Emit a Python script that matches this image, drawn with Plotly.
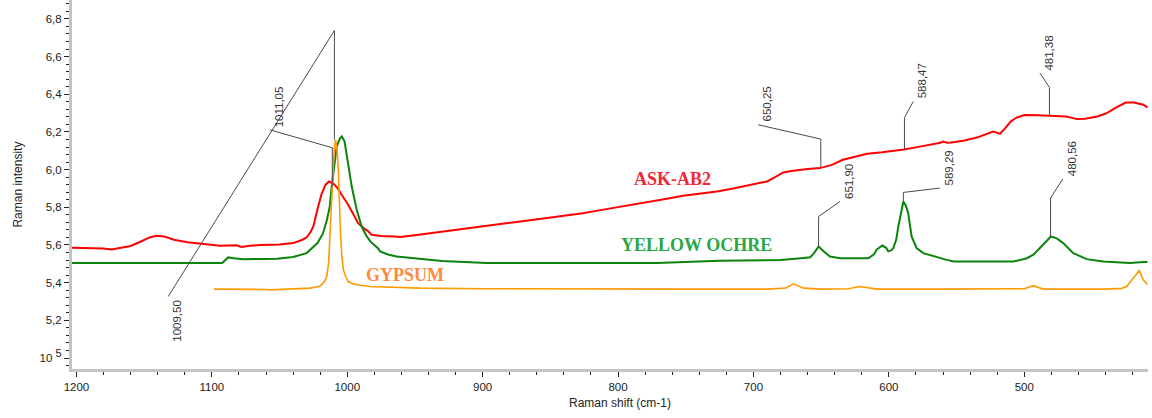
import plotly.graph_objects as go

# ---------------- data ----------------
red_x = [1203.3, 1190, 1180, 1174, 1168, 1160, 1152, 1146, 1141, 1135, 1128, 1118, 1106, 1094, 1082, 1078,
         1072, 1064, 1050, 1040, 1034, 1030, 1027, 1025, 1022, 1019, 1016, 1013.5, 1010, 1007, 1004, 1000,
         996, 992, 988, 985, 982, 975, 965, 961, 950, 936, 924, 912, 900, 887, 875, 862, 850, 838, 826,
         813, 801, 789, 776, 764, 752, 740, 727, 715, 703, 690, 684, 678, 672, 666, 660, 651, 642, 634,
         625, 616, 605, 595, 589, 580, 570, 562, 560, 557, 554, 545, 535, 528, 523, 520, 518, 514, 510,
         506, 500, 490, 481, 469, 461, 455, 446, 439, 432, 425, 419, 415, 412, 409]
red_y = [5.585, 5.585, 5.582, 5.576, 5.585, 5.595, 5.62, 5.64, 5.649, 5.645, 5.628, 5.615, 5.605, 5.596, 5.598, 5.589,
         5.596, 5.600, 5.603, 5.61, 5.625, 5.64, 5.67, 5.70, 5.79, 5.87, 5.92, 5.937, 5.925, 5.90, 5.865, 5.822,
         5.77, 5.716, 5.69, 5.675, 5.654, 5.648, 5.645, 5.642, 5.652, 5.666, 5.678, 5.69, 5.70, 5.712, 5.722, 5.734, 5.748, 5.757, 5.769,
         5.785, 5.799, 5.815, 5.831, 5.845, 5.861, 5.872, 5.884, 5.900, 5.919, 5.937, 5.96, 5.985, 5.993, 5.999, 6.003, 6.008, 6.025, 6.052,
         6.07, 6.084, 6.092, 6.10, 6.107, 6.118, 6.13, 6.142, 6.149, 6.143, 6.144, 6.153, 6.17, 6.19, 6.202, 6.195, 6.19, 6.22, 6.255,
         6.275, 6.29, 6.288, 6.285, 6.282, 6.268, 6.27, 6.282, 6.30, 6.33, 6.356, 6.356, 6.35, 6.344, 6.33]

green_x = [1203.3, 1092.3, 1090, 1088, 1084, 1077, 1060, 1052, 1040, 1030, 1022, 1018, 1015, 1013, 1011.5, 1009.5,
           1007.8, 1005.5, 1004, 1002, 1000.4, 998.5, 996.7, 993, 989.4, 986, 983, 980, 978.8, 977, 975.8, 970,
           963.5, 955, 946, 930, 897, 850, 771, 725, 700, 680, 665, 658, 655, 651.9, 648, 643.5, 636, 615, 611,
           609, 604.8, 602, 600.4, 598, 596.7, 594.5, 593, 591, 589.3, 587.5, 585.7, 583.2, 580.5, 579.5, 574.6,
           565, 557.3, 552, 508, 498, 493, 488.4, 484, 480.3, 476, 471.2, 463.8, 453.9, 441.6, 422, 412, 409]
green_y = [5.504, 5.504, 5.52, 5.534, 5.53, 5.525, 5.526, 5.527, 5.536, 5.557, 5.61, 5.66, 5.734, 5.80, 5.91, 6.02,
           6.122, 6.165, 6.176, 6.15, 6.07, 5.99, 5.91, 5.787, 5.698, 5.65, 5.619, 5.60, 5.592, 5.58, 5.566, 5.55,
           5.539, 5.532, 5.525, 5.515, 5.504, 5.504, 5.504, 5.516, 5.52, 5.521, 5.53, 5.535, 5.56, 5.592, 5.565, 5.539, 5.53, 5.53, 5.55,
           5.575, 5.597, 5.585, 5.566, 5.572, 5.584, 5.63, 5.698, 5.78, 5.831, 5.81, 5.769, 5.645, 5.60, 5.584, 5.557,
           5.535, 5.521, 5.512, 5.512, 5.53, 5.55, 5.584, 5.62, 5.645, 5.635, 5.61, 5.557, 5.525, 5.512, 5.504, 5.51, 5.51]

orange_x = [1098.4, 1080, 1060, 1057, 1045, 1030, 1027.5, 1021, 1018.9, 1016.5, 1015.2, 1013.8, 1012.8, 1011.8,
            1010.8, 1009.6, 1008.6, 1007.6, 1006.6, 1005.7, 1004.9, 1003.9, 1002.9, 1001, 999.3, 996, 993, 983,
            946, 900, 850, 750, 690, 676, 670.6, 666, 663, 650, 630, 621.3, 613, 609, 560, 500, 493.3, 488, 486,
            440, 428, 424.4, 419.5, 415, 412.1, 409]
orange_y = [5.366, 5.366, 5.364, 5.362, 5.366, 5.371, 5.371, 5.38, 5.389, 5.41, 5.433, 5.50, 5.645, 5.82,
            5.999, 6.12, 6.158, 6.11, 6.0, 5.80, 5.645, 5.53, 5.468, 5.43, 5.406, 5.395, 5.389, 5.38,
            5.371, 5.368, 5.366, 5.366, 5.366, 5.372, 5.394, 5.378, 5.371, 5.366, 5.368, 5.38, 5.37, 5.366, 5.366, 5.368, 5.384, 5.372, 5.366,
            5.366, 5.37, 5.38, 5.424, 5.465, 5.415, 5.39]

# peak labels: text, peak position, tip intensity, elbow intensity, leader end (x, y), label below end?
peak_text = ["1009,50", "1011,05", "650,25", "588,47", "481,38", "651,90", "589,29", "480,56"]
peak_x = [1009.5, 1011.05, 650.25, 588.47, 481.38, 651.90, 589.29, 480.56]
peak_tip = [6.159, 5.909, 6.011, 6.109, 6.285, 5.592, 5.831, 5.645]
peak_elbow = [6.738, 6.116, 6.162, 6.276, 6.436, 5.751, 5.879, 5.849]
peak_end_x = [1132.2, 1057.1, 696.5, 582.0, 488.4, 636.1, 562.3, 471.6]
peak_end_y = [5.327, 6.211, 6.238, 6.361, 6.512, 5.831, 5.902, 5.95]
peak_below = [True, False, False, False, False, False, False, False]

series_names = ["ASK-AB2", "YELLOW OCHRE", "GYPSUM"]
series_colors = ["#ff0000", "#0a840a", "#ff9a00"]
label_colors = ["#f0283a", "#27a844", "#ff8a3d"]
label_x = [759.5, 742.1, 957.0]
label_y = [5.951, 5.601, 5.442]

y_tickvals = [5.0, 5.2, 5.4, 5.6, 5.8, 6.0, 6.2, 6.4, 6.6, 6.8]
y_ticktext = ["10 <sup><span style=\"font-size:11px\">5</span></sup>", "5,2", "5,4", "5,6", "5,8",
              "6,0", "6,2", "6,4", "6,6", "6,8"]
x_tickvals = [1200, 1100, 1000, 900, 800, 700, 600, 500]

# ---------------- figure ----------------
fig = go.Figure()
for xs, ys, name, col, w in [(red_x, red_y, series_names[0], series_colors[0], 2),
                             (green_x, green_y, series_names[1], series_colors[1], 2),
                             (orange_x, orange_y, series_names[2], series_colors[2], 1.6)]:
    fig.add_trace(go.Scatter(x=xs, y=ys, mode="lines", name=name,
                             line=dict(color=col, width=w), hoverinfo="skip"))

annotations = []
for t, px, tip, elb, ex, ey, below in zip(peak_text, peak_x, peak_tip, peak_elbow,
                                          peak_end_x, peak_end_y, peak_below):
    fig.add_trace(go.Scatter(x=[px, px, ex], y=[tip, elb, ey], mode="lines",
                             line=dict(color="#4a4a4a", width=1), hoverinfo="skip",
                             showlegend=False))
    annotations.append(dict(x=ex, y=ey, xref="x", yref="y", text=t, showarrow=False,
                            textangle=-90, xanchor="left", yanchor="top" if below else "bottom",
                            xshift=1, yshift=-1 if below else 1,
                            font=dict(family="Liberation Sans, Arial", size=11.5, color="#333333")))

for n, c, lx, ly in zip(series_names, label_colors, label_x, label_y):
    annotations.append(dict(x=lx, y=ly, xref="x", yref="y", text="<b>%s</b>" % n, showarrow=False,
                            xanchor="center", yanchor="middle",
                            font=dict(family="Liberation Serif, Times New Roman", size=18, color=c)))

annotations.append(dict(x=-0.051, y=0.50, xref="paper", yref="paper", text="Raman intensity",
                        showarrow=False, textangle=-90, xanchor="center", yanchor="middle",
                        font=dict(family="Liberation Sans, Arial", size=12, color="#222222")))
annotations.append(dict(x=0.509, y=-0.092, xref="paper", yref="paper", text="Raman shift (cm-1)",
                        showarrow=False, xanchor="center", yanchor="middle",
                        font=dict(family="Liberation Sans, Arial", size=12, color="#222222")))

fig.update_layout(
    width=1152, height=418,
    margin=dict(l=72, r=4, t=0, b=49),
    paper_bgcolor="white", plot_bgcolor="white",
    showlegend=False,
    annotations=annotations,
    font=dict(family="Liberation Sans, Arial", size=11, color="#222222"),
)
fig.update_xaxes(
    range=[1203.3, 408.6], tickvals=x_tickvals, ticktext=[str(v) for v in x_tickvals],
    showgrid=False, zeroline=False, showline=True, linecolor="#c4c4c4", linewidth=3,
    ticks="outside", ticklen=5, tickcolor="#222222", tickwidth=1,
    tickfont=dict(size=11.5, color="#222222"),
    minor=dict(dtick=20, tick0=1200, ticks="outside", ticklen=3, tickcolor="#222222", tickwidth=1, showgrid=False),
)
fig.update_yaxes(
    range=[4.942, 6.900], tickvals=y_tickvals, ticktext=y_ticktext,
    showgrid=False, zeroline=False, showline=True, linecolor="#c4c4c4", linewidth=3,
    ticks="outside", ticklen=5, tickcolor="#222222", tickwidth=1,
    tickfont=dict(size=11.5, color="#222222"),
    minor=dict(dtick=0.04, tick0=5.0, ticks="outside", ticklen=3, tickcolor="#222222", tickwidth=1, showgrid=False),
)

fig.write_html("out.html", config={"displayModeBar": False},
               post_script="document.body.style.margin='0';document.body.style.overflow='hidden';")
